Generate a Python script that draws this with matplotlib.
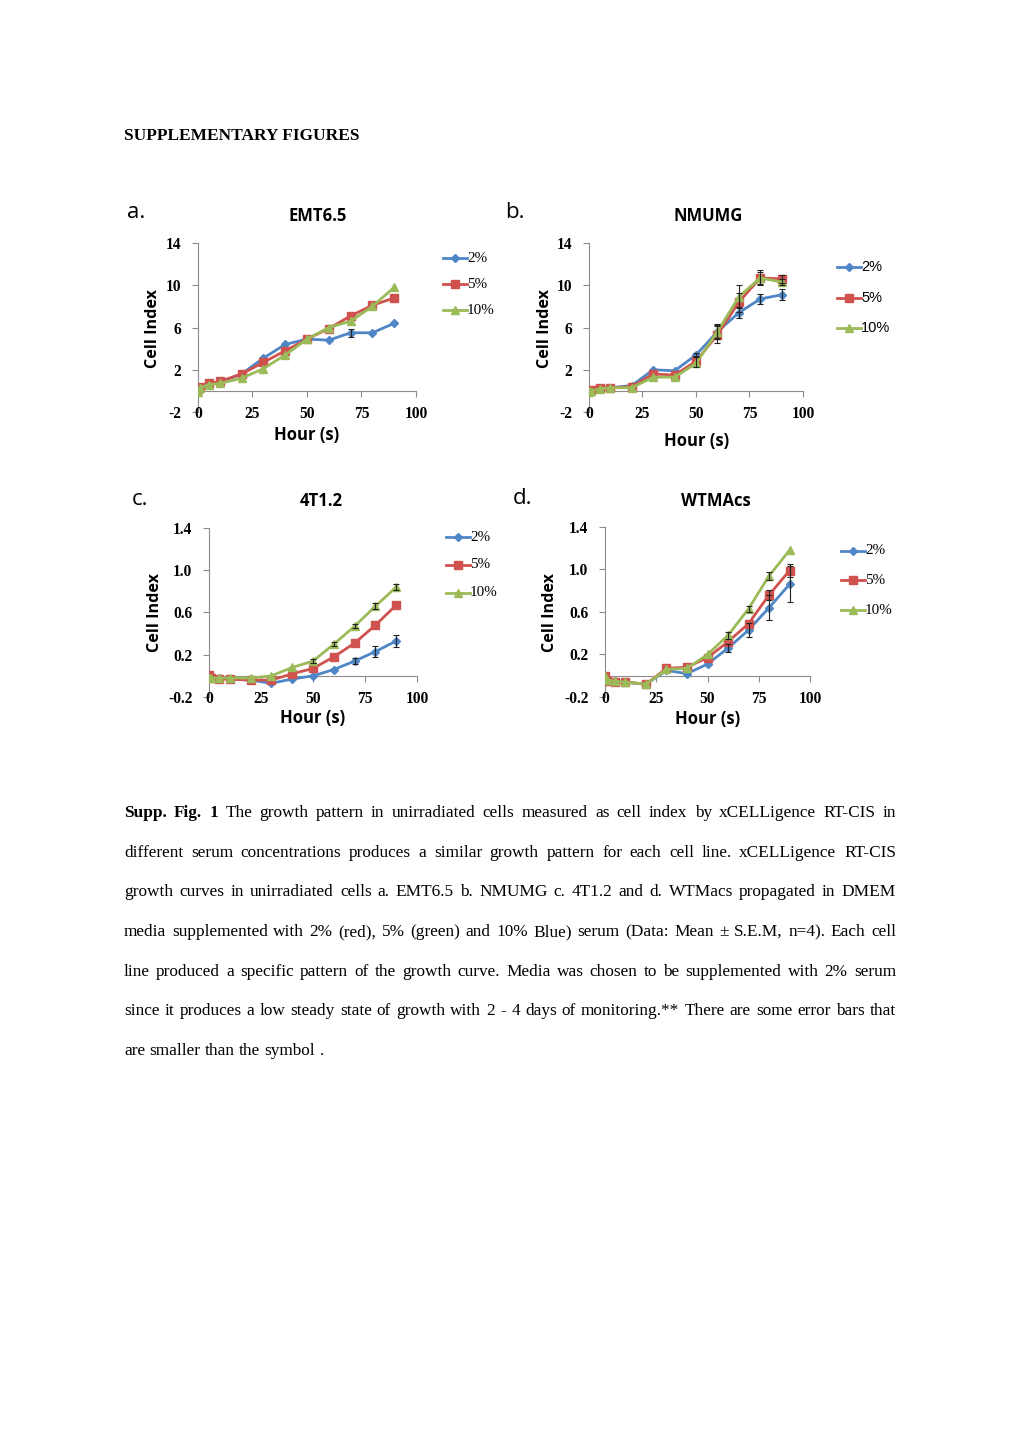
import matplotlib
matplotlib.use("Agg")
import matplotlib.pyplot as plt
import numpy as np

plt.rcParams["axes.unicode_minus"] = False

W, H = 1020, 1443

# ─── data ─────────────────────────────────────────────────────────────────────
hours = [0, 1, 5, 10, 20, 30, 40, 50, 60, 70, 80, 90]

# a. EMT6.5
emt_2 = [0.1, 0.4, 0.7, 0.8, 1.6, 3.1, 4.4, 4.9, 4.8, 5.5, 5.5, 6.4]
emt_5 = [0.2, 0.4, 0.7, 0.9, 1.6, 2.7, 3.8, 4.9, 5.9, 7.1, 8.1, 8.8]
emt_10 = [-0.1, 0.3, 0.6, 0.7, 1.2, 2.1, 3.4, 4.9, 6.0, 6.6, 8.0, 9.8]
emt_2_err = [0, 0, 0, 0, 0, 0, 0, 0, 0, 0.4, 0, 0]
emt_5_err = [0, 0, 0, 0, 0, 0, 0, 0, 0, 0, 0, 0]
emt_10_err = [0, 0, 0, 0, 0, 0, 0, 0, 0, 0, 0, 0]

# b. NMUMG
nmu_2 = [0.0, 0.0, 0.2, 0.3, 0.5, 2.0, 1.9, 3.4, 5.6, 7.4, 8.7, 9.1]
nmu_5 = [0.0, 0.1, 0.3, 0.3, 0.4, 1.6, 1.5, 2.8, 5.3, 8.4, 10.7, 10.6]
nmu_10 = [-0.1, 0.0, 0.2, 0.3, 0.3, 1.3, 1.3, 2.6, 5.6, 8.9, 10.7, 10.3]
nmu_2_err = [0, 0, 0, 0, 0, 0, 0, 0.2, 0.6, 0.5, 0.5, 0.5]
nmu_5_err = [0, 0, 0, 0, 0, 0, 0, 0.5, 0.8, 0.9, 0.7, 0.4]
nmu_10_err = [0, 0, 0, 0, 0, 0, 0, 0, 0.7, 1.1, 0.6, 0.3]

# c. 4T1.2
t41_2 = [-0.01, -0.02, -0.02, -0.03, -0.04, -0.07, -0.03, 0.0, 0.06, 0.14, 0.23, 0.33]
t41_5 = [0.01, -0.02, -0.03, -0.03, -0.04, -0.04, 0.02, 0.07, 0.18, 0.31, 0.48, 0.67]
t41_10 = [-0.02, -0.02, -0.02, -0.02, -0.02, 0.0, 0.08, 0.14, 0.30, 0.47, 0.66, 0.84]
t41_2_err = [0, 0, 0, 0, 0, 0, 0, 0, 0, 0.03, 0.05, 0.06]
t41_5_err = [0, 0, 0, 0, 0, 0, 0, 0, 0, 0, 0, 0]
t41_10_err = [0, 0, 0, 0, 0, 0, 0, 0.02, 0.02, 0.02, 0.03, 0.03]

# d. WTMAcs
wtm_2 = [0.0, -0.04, -0.05, -0.06, -0.08, 0.05, 0.02, 0.11, 0.26, 0.43, 0.64, 0.86]
wtm_5 = [0.0, -0.05, -0.06, -0.06, -0.08, 0.07, 0.08, 0.17, 0.32, 0.49, 0.76, 0.99]
wtm_10 = [0.0, -0.04, -0.05, -0.06, -0.08, 0.06, 0.07, 0.20, 0.38, 0.63, 0.94, 1.18]
wtm_2_err = [0, 0, 0, 0, 0, 0, 0, 0, 0.04, 0.07, 0.12, 0.17]
wtm_5_err = [0, 0, 0, 0, 0, 0, 0, 0, 0, 0, 0.05, 0.06]
wtm_10_err = [0, 0, 0, 0, 0, 0, 0, 0, 0.03, 0.03, 0.04, 0]

series_labels = ["2%", "5%", "10%"]
x_ticks = [0, 25, 50, 75, 100]
big_ticks = [-2, 2, 6, 10, 14]
small_ticks = [-0.2, 0.2, 0.6, 1.0, 1.4]

# ─── styling ──────────────────────────────────────────────────────────────────
colors = ["#4F86C6", "#D0524E", "#9BBB59"]
markers = ["D", "s", "^"]
msizes = [4.5, 5.5, 6.0]
AXIS_GREY = "#8C8C8C"
SERIF = "Liberation Serif"
SANS = "Liberation Sans"
LABEL_FONT = "Open Sans"

fig = plt.figure(figsize=(W / 100, H / 100), dpi=100)


def ax_rect(l, t, r, b):
    return [l / W, 1 - b / H, (r - l) / W, (b - t) / H]


def ftext(x, y, s, **kw):
    return fig.text(x / W, 1 - y / H, s, **kw)


panels = [
    dict(letter="a.", title="EMT6.5", ys=[emt_2, emt_5, emt_10],
         errs=[emt_2_err, emt_5_err, emt_10_err], yt=big_ticks, fmt="{:.0f}",
         rect=(198, 243, 416, 412), let=(127, 212), tit=(318, 216),
         ylab=(153, 328), xlab=(307, 435), leg=(443, 258), legfam=SERIF, legsp=26),
    dict(letter="b.", title="NMUMG", ys=[nmu_2, nmu_5, nmu_10],
         errs=[nmu_2_err, nmu_5_err, nmu_10_err], yt=big_ticks, fmt="{:.0f}",
         rect=(589, 243, 803, 412), let=(505, 212), tit=(708, 216),
         ylab=(545, 328), xlab=(697, 441), leg=(837, 267), legfam=SANS, legsp=30.5),
    dict(letter="c.", title="4T1.2", ys=[t41_2, t41_5, t41_10],
         errs=[t41_2_err, t41_5_err, t41_10_err], yt=small_ticks, fmt="{:.1f}",
         rect=(209, 528, 417, 697), let=(132, 500), tit=(321, 501),
         ylab=(155, 612), xlab=(313, 718), leg=(446, 537), legfam=SERIF, legsp=28),
    dict(letter="d.", title="WTMAcs", ys=[wtm_2, wtm_5, wtm_10],
         errs=[wtm_2_err, wtm_5_err, wtm_10_err], yt=small_ticks, fmt="{:.1f}",
         rect=(605, 527, 810, 697), let=(513, 499), tit=(716, 501),
         ylab=(550, 612), xlab=(708, 719), leg=(841, 551), legfam=SERIF, legsp=29.5),
]

for p in panels:
    ax = fig.add_axes(ax_rect(*p["rect"]))
    yt = p["yt"]
    ax.set_xlim(0, 100)
    ax.set_ylim(yt[0], yt[-1])
    ax.patch.set_alpha(0)

    for ys, err, c, m, ms in zip(p["ys"], p["errs"], colors, markers, msizes):
        ax.plot(hours, ys, "-", color=c, marker=m, markersize=ms, linewidth=2,
                markeredgecolor=c, zorder=3)
        e = np.array(err)
        mask = e > 0
        if mask.any():
            ax.errorbar(np.array(hours)[mask], np.array(ys)[mask], yerr=e[mask],
                        fmt="none", ecolor="#222222", elinewidth=0.8,
                        capsize=2.2, capthick=0.8, zorder=4)

    for s in ["top", "right"]:
        ax.spines[s].set_visible(False)
    ax.spines["left"].set_color(AXIS_GREY)
    ax.spines["bottom"].set_color(AXIS_GREY)
    ax.spines["bottom"].set_position(("data", 0))
    ax.set_xticks(x_ticks)
    ax.tick_params(axis="x", direction="out", length=4, color=AXIS_GREY,
                   labelbottom=False)
    ax.set_yticks(yt)
    ax.set_yticklabels([p["fmt"].format(v) for v in yt], family=SERIF,
                       weight="bold", fontsize=11.2)
    ax.tick_params(axis="y", direction="out", length=4, color=AXIS_GREY, pad=8)
    for xv in x_ticks:
        ax.text(xv, -0.012, str(xv), transform=ax.get_xaxis_transform(),
                ha="center", va="center", family=SERIF, weight="bold",
                fontsize=11.2)

    # legend, drawn as Excel does it: short line with marker, text right after
    lx, ly = p["leg"]
    for i, (lab, c, m, ms) in enumerate(zip(series_labels, colors, markers, msizes)):
        yy = ly + i * p["legsp"]
        fig.add_artist(plt.Line2D([lx / W, (lx + 24) / W], [1 - yy / H] * 2,
                                  color=c, linewidth=2, transform=fig.transFigure))
        fig.add_artist(plt.Line2D([(lx + 12) / W], [1 - yy / H], color=c,
                                  marker=m, markersize=ms, markeredgecolor=c,
                                  transform=fig.transFigure))
        ftext(lx + 24, yy, lab, ha="left", va="center", family=p["legfam"],
              fontsize=10.9 if p["legfam"] == SERIF else 10.5)

    ftext(*p["let"], p["letter"], ha="left", va="center", family=LABEL_FONT,
          fontsize=16)
    ftext(*p["tit"], p["title"], ha="center", va="center", family=LABEL_FONT,
          weight="bold", fontsize=12)
    ftext(*p["ylab"], "Cell Index", ha="center", va="center", rotation=90,
          family=LABEL_FONT, weight="bold", fontsize=11.6)
    ftext(*p["xlab"], "Hour (s)", ha="center", va="center", family=LABEL_FONT,
          weight="bold", fontsize=12)

# ─── header and caption ───────────────────────────────────────────────────────
ftext(124, 135.5, "SUPPLEMENTARY FIGURES", ha="left", va="center", family=SERIF,
      weight="bold", fontsize=12.5)

caption_lines = [
    "Supp. Fig. 1 The growth pattern in unirradiated cells measured as cell index by xCELLigence RT-CIS in",
    "different serum concentrations produces a similar growth pattern for each cell line. xCELLigence RT-CIS",
    "growth curves in unirradiated cells a. EMT6.5 b. NMUMG c. 4T1.2 and d. WTMacs propagated in DMEM",
    "media supplemented with 2% (red), 5% (green) and 10% Blue) serum (Data: Mean \u00b1 S.E.M, n=4). Each cell",
    "line produced a specific pattern of the growth curve. Media was chosen to be supplemented with 2% serum",
    "since it produces a low steady state of growth with 2 - 4 days of monitoring.** There are some error bars that",
    "are smaller than the symbol .",
]
line_y = [813, 853, 892, 932, 972, 1011, 1051]
LEFT, RIGHT = 124, 896
CAP_FS = 12.4

renderer = fig.canvas.get_renderer()
space_w = None
for li, (line, yy) in enumerate(zip(caption_lines, line_y)):
    words = line.split(" ")
    arts = []
    for wi, w in enumerate(words):
        bold = li == 0 and wi < 3
        t = ftext(0, yy, w, ha="left", va="center", family=SERIF,
                  weight="bold" if bold else "normal", fontsize=CAP_FS)
        arts.append(t)
    widths = [a.get_window_extent(renderer).width for a in arts]
    if li == len(caption_lines) - 1:
        gap = CAP_FS * 100 / 72 * 0.25
    else:
        gap = (RIGHT - LEFT - sum(widths)) / (len(words) - 1)
    x = LEFT
    for a, wd in zip(arts, widths):
        a.set_x(x / W)
        x += wd + gap

fig.savefig("out.png", dpi=100)
